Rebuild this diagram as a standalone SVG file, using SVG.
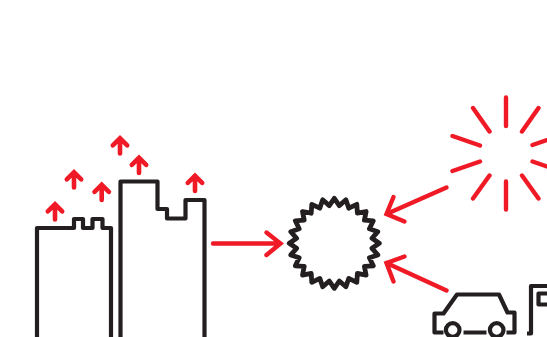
<svg xmlns="http://www.w3.org/2000/svg" width="547" height="337" viewBox="0 0 547 337">
<style>
.k{fill:none;stroke:#231f20;stroke-width:4.2;stroke-linejoin:round}
.g{fill:none;stroke:#231f20;stroke-width:4.8;stroke-linejoin:round}
.r{fill:none;stroke:#f01a26;stroke-width:4.4;stroke-linecap:round;stroke-linejoin:miter}
.u{fill:none;stroke:#f01a26;stroke-width:4.6;stroke-linejoin:miter;stroke-linecap:round}
</style>
<rect width="547" height="337" fill="#fff"/>
<defs>
<path id="up" class="u" d="M0 0V-15M-7.2 -8.2L0 -15.2L7.2 -8.2"/>
</defs>
<g id="building-left"><path class="k" d="M37 339V228H74V219H83V228H92.5V219H102.5V228H111V339"/></g>
<g id="building-right"><path class="k" d="M120.5 339V181.5H157.5V209H167V218.5H185.5V200H204.5V339"/></g>
<g id="heat-arrows">
<use href="#up" x="55" y="219.5"/>
<use href="#up" x="74" y="187.5"/>
<use href="#up" x="101.7" y="200"/>
<use href="#up" x="120" y="153.5"/>
<use href="#up" x="139" y="173"/>
<use href="#up" x="195" y="191"/>
</g>
<g id="heat-island"><path class="g" transform="translate(334.3 243.3)" d="M45 0L37.7 5L43.5 11.6L35.1 14.5L39 22.5L30.1 23.1L31.8 31.8L23.1 30.1L22.5 39L14.5 35.1L11.6 43.5L5 37.7L0 45L-5 37.7L-11.6 43.5L-14.5 35.1L-22.5 39L-23.1 30.1L-31.8 31.8L-30.1 23.1L-39 22.5L-35.1 14.5L-43.5 11.6L-37.7 5L-45 0L-37.7 -5L-43.5 -11.6L-35.1 -14.5L-39 -22.5L-30.1 -23.1L-31.8 -31.8L-23.1 -30.1L-22.5 -39L-14.5 -35.1L-11.6 -43.5L-5 -37.7L0 -45L5 -37.7L11.6 -43.5L14.5 -35.1L22.5 -39L23.1 -30.1L31.8 -31.8L30.1 -23.1L39 -22.5L35.1 -14.5L43.5 -11.6L37.7 -5Z"/></g>
<g id="sun"><path class="r" d="M506 97.5V126M473 108L489.5 131.5M538.5 108L522 131.5M452.5 136L480 145.5M452.5 171L480 161.5M532.5 145L560 135.5M532.5 161.5L560 171M489.5 175.5L473 198.5M522 175.5L538.5 198.5M506 181.5V209.5"/></g>
<g id="car"><path class="k" d="M443.5 332.5H434.5V313.5H443.5L457 294.5H499L507.5 312.5H514.5V332.5H506.5M463.5 332.5H486.5"/><circle class="k" cx="452.7" cy="330" r="6.8"/><circle class="k" cx="496.7" cy="330" r="6.8"/></g>
<g id="factory"><path class="k" d="M527 333.5H531V286H549M549 293.5H538.5V304.5H549"/></g>
<g id="connectors">
<path class="r" d="M213 243.5H280M266.5 232.5L280.5 243.5L266.5 255"/>
<path class="r" d="M446.5 187.5L386.5 214M393.5 197L386.5 214L404.5 221.5"/>
<path class="r" d="M446.5 290.5L386.5 263M404.5 256.5L386.5 263L393.5 281.5"/>
</g>
</svg>
